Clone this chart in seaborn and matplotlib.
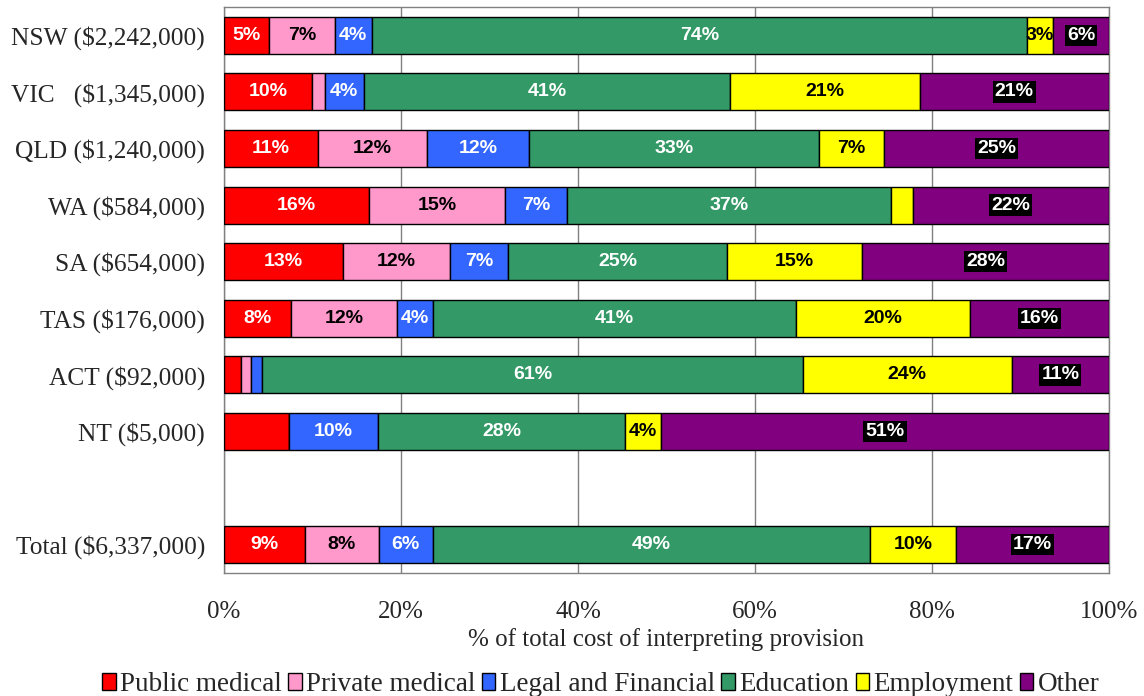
import numpy as np
import pandas as pd
import matplotlib
matplotlib.use('Agg')
import matplotlib.pyplot as plt
import seaborn as sns

# 데이터
states = ['NSW ($2,242,000)', 'VIC   ($1,345,000)', 'QLD ($1,240,000)', 'WA ($584,000)',
          'SA ($654,000)', 'TAS ($176,000)', 'ACT ($92,000)', 'NT ($5,000)', '', 'Total ($6,337,000)']
categories = ['Public medical', 'Private medical', 'Legal and Financial', 'Education', 'Employment', 'Other']
colors = ['#FF0000', '#FF99CC', '#3366FF', '#339966', '#FFFF00', '#800080']

public_medical = [5.1, 10.0, 10.6, 16.4, 13.4, 7.6, 1.9, 7.3, 0, 9.1]
private_medical = [7.4, 1.4, 12.3, 15.4, 12.1, 12.0, 1.2, 0.0, 0, 8.4]
legal_financial = [4.2, 4.4, 11.6, 7.0, 6.6, 4.0, 1.2, 10.1, 0, 6.1]
education = [74.0, 41.4, 32.7, 36.6, 24.7, 41.0, 61.1, 27.9, 0, 49.4]
employment = [3.0, 21.4, 7.4, 2.4, 15.3, 19.7, 23.6, 4.1, 0, 9.7]
other = [6.3, 21.4, 25.4, 22.2, 27.9, 15.7, 11.0, 50.6, 0, 17.3]

# 라벨을 표시하지 않는 칸 (행, 항목)
hidden = [(1, 1), (3, 4), (6, 0), (6, 1), (6, 2), (7, 0), (7, 1)]

values = [public_medical, private_medical, legal_financial, education, employment, other]

sns.set_theme(style='white')
plt.rcParams['font.family'] = ['Liberation Serif', 'DejaVu Serif']

fig = plt.figure(figsize=(11.44, 6.96), dpi=100)
ax = fig.add_axes([0.1958, 0.1767, 0.7736, 0.8132])

left = np.zeros(len(states))
for k, (cat, vals) in enumerate(zip(categories, values)):
    df = pd.DataFrame({'state': states, 'value': vals, 'left': left})
    df = df[df['state'] != '']
    sns.barplot(data=df, x='value', y='state', order=states, orient='h', color=colors[k],
                saturation=1, width=0.654, errorbar=None, left=df['left'].values,
                edgecolor='black', linewidth=1, label=cat, ax=ax, zorder=3)
    # 라벨
    for i, v in enumerate(vals):
        if states[i] == '' or v == 0 or (i, k) in hidden:
            continue
        x = left[i] + v / 2
        txt = f'{v:.0f}%'
        if cat == 'Other':
            ax.text(x, i, txt, ha='center', va='center', color='white', fontsize=14,
                    fontweight='bold', family='Liberation Sans', zorder=5,
                    bbox=dict(facecolor='black', edgecolor='none', pad=1.5))
        else:
            tc = 'black' if cat in ('Private medical', 'Employment') else 'white'
            ax.text(x, i, txt, ha='center', va='center', color=tc, fontsize=14,
                    fontweight='bold', family='Liberation Sans', zorder=5)
    left = left + np.array(vals)

ax.set_xlim(0, 100)
ax.set_ylim(len(states) - 0.5, -0.5)
ax.set_xticks(range(0, 101, 20))
ax.set_xticklabels([f'{t}%' for t in range(0, 101, 20)], fontsize=18)
ax.set_yticks(range(len(states)))
ax.set_yticklabels(states, fontsize=18.3)
ax.tick_params(axis='x', length=0, pad=20)
ax.tick_params(axis='y', length=0, pad=13.5)
ax.set_xlabel('% of total cost of interpreting provision', fontsize=18, labelpad=4)
ax.set_ylabel('')
ax.xaxis.grid(True, color='#808080', linewidth=1, zorder=0)
ax.yaxis.grid(False)
for sp in ax.spines.values():
    sp.set_color('#808080')
    sp.set_linewidth(1)

handles, labels = ax.get_legend_handles_labels()
if ax.get_legend() is not None:
    ax.get_legend().remove()
fig.legend(handles, labels, loc='lower center', bbox_to_anchor=(0.525, -0.037), ncol=6,
           frameon=False, fontsize=19.5, handlelength=0.5, handleheight=0.6,
           handletextpad=0.15, columnspacing=0.25)

fig.savefig('out.png', dpi=100)
